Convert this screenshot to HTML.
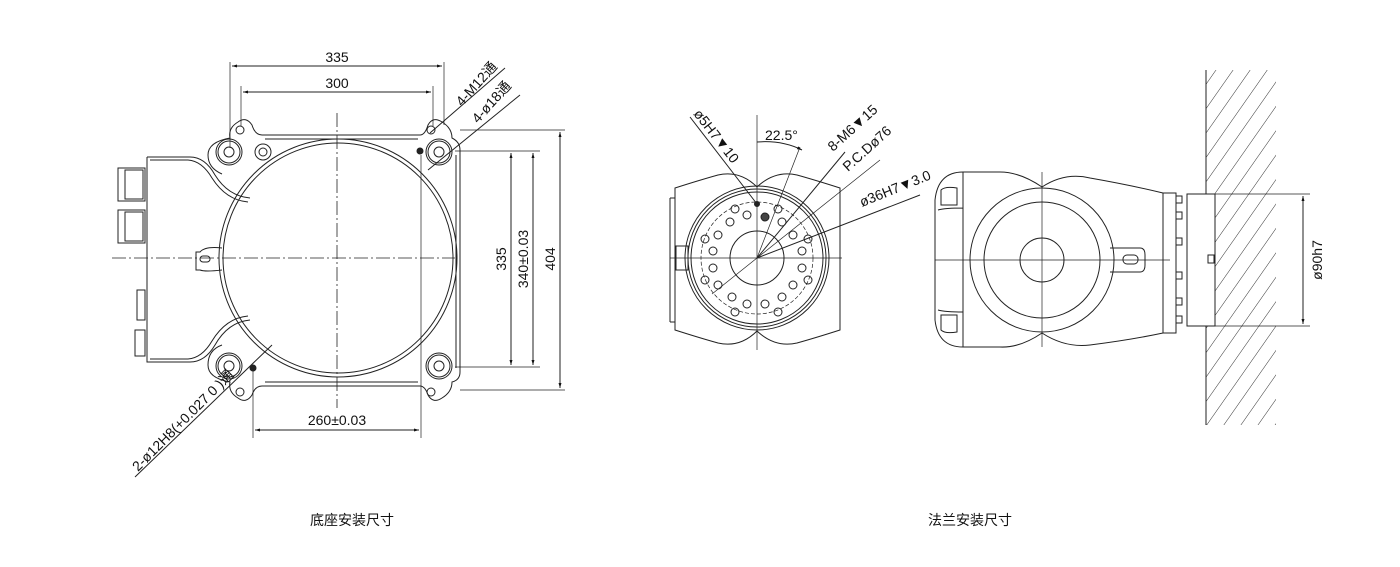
<!DOCTYPE html>
<html><head><meta charset="utf-8"><style>
html,body{margin:0;padding:0;background:#fff;}
svg{display:block;}
text{font-family:"Liberation Sans","Noto Sans CJK SC",sans-serif;fill:#111;}
.d{font-family:"Liberation Sans Narrow","Liberation Sans",sans-serif;font-size:14px;}
</style></head><body>
<svg width="1400" height="567" viewBox="0 0 1400 567" xmlns="http://www.w3.org/2000/svg">
<defs>
<pattern id="h" width="14" height="14" patternUnits="userSpaceOnUse" patternTransform="rotate(35)">
<line x1="0" y1="0" x2="0" y2="14" stroke="#333" stroke-width="1"/>
</pattern>
<marker id="a" viewBox="0 0 10 10" refX="10" refY="5" markerWidth="9" markerHeight="5" orient="auto-start-reverse"><path d="M0,2 L10,5 L0,8 Z" fill="#111"/></marker>
</defs>
<g fill="none" stroke="#222" stroke-width="1">
<!-- LEFT VIEW -->
<path d="M147,157 L190,157 Q205,157 215,175 Q228,196 250,198"/>
<path d="M150,160 L188,160 Q202,161 212,178 Q226,200 248,202"/>
<path d="M147,157 L147,362 L190,362 Q205,362 215,345 Q228,322 250,320"/>
<path d="M150,359 L188,359 Q202,358 212,341 Q226,318 248,316"/>
<path d="M262,135 L420,135 Q425,135 428,125 Q433,116 442,122 Q452,128 452,138 Q460,142 460,150 L460,372 Q460,380 452,382 Q452,392 442,398 Q433,404 428,395 Q425,386 420,386 L262,386 Q255,386 252,395 Q246,404 238,398 Q228,392 230,382 Q208,378 208,365 Q208,350 222,345"/>
<path d="M262,135 Q255,135 252,125 Q246,116 238,122 Q228,128 230,138 Q208,142 208,155 Q208,168 222,174"/>
<path d="M265,139 L418,139 M265,382 L418,382 M456,155 L456,368"/>
<circle cx="338" cy="258" r="119"/>
<circle cx="338" cy="258" r="115"/>
<path d="M222,248 Q205,246 200,252 L196,252 L196,270 L200,270 Q205,272 222,270"/>
<rect x="200" y="256" width="10" height="6" rx="3" fill="#fff"/>
<circle cx="229" cy="152" r="13"/><circle cx="229" cy="152" r="11"/><circle cx="229" cy="152" r="5"/>
<circle cx="439" cy="152" r="13"/><circle cx="439" cy="152" r="11"/><circle cx="439" cy="152" r="5"/>
<circle cx="229" cy="366" r="13"/><circle cx="229" cy="366" r="11"/><circle cx="229" cy="366" r="5"/>
<circle cx="439" cy="366" r="13"/><circle cx="439" cy="366" r="11"/><circle cx="439" cy="366" r="5"/>
<circle cx="263" cy="152" r="8"/><circle cx="263" cy="152" r="4"/>
<circle cx="240" cy="130" r="4"/><circle cx="431" cy="130" r="4"/>
<circle cx="240" cy="392" r="4"/><circle cx="431" cy="392" r="4"/>
<circle cx="420" cy="151" r="3" fill="#222"/><circle cx="253" cy="368" r="3" fill="#222"/>
<rect x="118" y="168" width="27" height="33"/><rect x="125" y="170" width="18" height="29"/>
<rect x="118" y="210" width="27" height="33"/><rect x="125" y="212" width="18" height="29"/>
<rect x="137" y="290" width="8" height="30"/><rect x="135" y="330" width="10" height="26"/>
<path d="M112,258 L455,258 M337,113 L337,408" stroke-dasharray="14,3,2,3" stroke-width="0.8"/>
<path d="M230,62 L230,148 M444,62 L444,125 M241,86 L241,126 M433,86 L433,126" stroke-width="0.7"/>
<line x1="232" y1="66" x2="442" y2="66" marker-start="url(#a)" marker-end="url(#a)"/>
<line x1="243" y1="92" x2="431" y2="92" marker-start="url(#a)" marker-end="url(#a)"/>
<path d="M460,130 L565,130 M460,390 L565,390 M455,151 L540,151 M455,367 L540,367" stroke-width="0.7"/>
<line x1="511" y1="153" x2="511" y2="365" marker-start="url(#a)" marker-end="url(#a)"/>
<line x1="533" y1="153" x2="533" y2="365" marker-start="url(#a)" marker-end="url(#a)"/>
<line x1="560" y1="132" x2="560" y2="388" marker-start="url(#a)" marker-end="url(#a)"/>
<path d="M253,368 L253,438 M421,155 L421,438" stroke-width="0.7"/>
<line x1="255" y1="430" x2="419" y2="430" marker-start="url(#a)" marker-end="url(#a)"/>
<line x1="430" y1="133" x2="505" y2="68"/>
<line x1="428" y1="170" x2="520" y2="95"/>
<line x1="135" y1="477" x2="272" y2="345"/>
<!-- MIDDLE VIEW -->
<path d="M675,188 Q700,180 718,175 Q740,170 757,187 Q775,170 797,175 Q815,180 840,188 L840,330 Q815,338 797,343 Q775,348 757,331 Q740,348 718,343 Q700,338 675,330 Z"/>
<path d="M670,198 L675,198 M670,322 L675,322 M670,198 L670,322"/>
<rect x="676" y="246" width="12" height="24"/>
<circle cx="757" cy="258" r="72"/><circle cx="757" cy="258" r="69"/><circle cx="757" cy="258" r="66"/>
<circle cx="757" cy="258" r="56" stroke-dasharray="4,2" stroke-width="0.7"/>
<circle cx="757" cy="258" r="27"/>
<path d="M757,115 L757,350 M670,258 L842,258" stroke-width="0.7"/>
<line x1="757" y1="258" x2="800" y2="147" stroke-width="0.7"/>
<path d="M757,142 Q782,140 802,150" marker-end="url(#a)"/>
<line x1="690" y1="117" x2="757" y2="204"/>
<line x1="757" y1="258" x2="845" y2="152"/>
<line x1="757" y1="258" x2="880" y2="160" stroke-width="0.7"/>
<line x1="757" y1="258" x2="920" y2="195"/>
<line x1="757" y1="258" x2="712" y2="294" stroke-width="0.7"/>
<circle cx="757" cy="204" r="2.5" fill="#222"/>
<!-- right view -->
<path d="M963,172 L1000,172 Q1020,172 1042,187 Q1065,172 1090,178 Q1130,185 1163,193 L1163,333 Q1130,340 1090,345 Q1065,348 1042,333 Q1020,348 1000,347 L963,347 Q938,347 935,320 L935,200 Q938,172 963,172 Z"/>
<path d="M963,172 L963,347 M938,210 Q945,208 963,208 M938,310 Q945,312 963,312"/>
<path d="M941,205 L941,190 Q945,186 957,188 L957,205 Z M941,315 L941,330 Q945,334 957,332 L957,315 Z"/>
<circle cx="1042" cy="260" r="72"/><circle cx="1042" cy="260" r="58"/><circle cx="1042" cy="260" r="22"/>
<path d="M1110,248 L1140,248 Q1145,248 1145,255 L1145,265 Q1145,272 1140,272 L1110,272"/>
<rect x="1123" y="255" width="15" height="9" rx="4"/>
<path d="M935,260 L1170,260 M1042,172 L1042,347" stroke-width="0.7"/>
<rect x="1163" y="193" width="13" height="140"/>
<rect x="1176" y="196" width="6" height="7"/><rect x="1176" y="212" width="6" height="7"/><rect x="1176" y="238" width="6" height="7"/><rect x="1176" y="272" width="6" height="7"/><rect x="1176" y="298" width="6" height="7"/><rect x="1176" y="316" width="6" height="7"/>
<rect x="1206" y="70" width="70" height="355" fill="url(#h)" stroke="none"/>
<line x1="1206" y1="70" x2="1206" y2="425"/>
<rect x="1187" y="194" width="28" height="132" fill="#fff"/>
<rect x="1208" y="255" width="6" height="8"/>
<path d="M1215,194 L1310,194 M1215,326 L1310,326" stroke-width="0.7"/>
<line x1="1303" y1="196" x2="1303" y2="324" marker-start="url(#a)" marker-end="url(#a)"/>
</g>
<g class="d">
<text x="337" y="62" text-anchor="middle">335</text>
<text x="337" y="88" text-anchor="middle">300</text>
<text x="337" y="425" text-anchor="middle">260±0.03</text>
<text transform="translate(506,259) rotate(-90)" text-anchor="middle">335</text>
<text transform="translate(528,259) rotate(-90)" text-anchor="middle">340±0.03</text>
<text transform="translate(555,259) rotate(-90)" text-anchor="middle">404</text>
<text transform="translate(462,107) rotate(-48)">4-M12通</text>
<text transform="translate(478,124) rotate(-48)">4-ø18通</text>
<text transform="translate(138,472) rotate(-45)">2-ø12H8(+0.027 0 )通</text>
<text transform="translate(693,114) rotate(52)">ø5H7▼10</text>
<text x="765" y="140">22.5°</text>
<text transform="translate(833,152) rotate(-42)">8-M6▼15</text>
<text transform="translate(848,172) rotate(-42)">P.C.Dø76</text>
<text transform="translate(862,207) rotate(-22)">ø36H7▼3.0</text>
<text transform="translate(1322,260) rotate(-90)" text-anchor="middle">ø90h7</text>
</g>
<text x="352" y="525" font-size="14" text-anchor="middle">底座安装尺寸</text>
<text x="970" y="525" font-size="14" text-anchor="middle">法兰安装尺寸</text>
<g fill="none" stroke="#222" stroke-width="1">
<circle cx="735" cy="209" r="4"/><circle cx="778" cy="209" r="4"/><circle cx="705" cy="239" r="4"/><circle cx="808" cy="239" r="4"/>
<circle cx="705" cy="280" r="4"/><circle cx="808" cy="280" r="4"/><circle cx="735" cy="312" r="4"/><circle cx="778" cy="312" r="4"/>
<circle cx="730" cy="222" r="4"/><circle cx="747" cy="215" r="4"/><circle cx="765" cy="217" r="4" fill="#444"/><circle cx="782" cy="222" r="4"/>
<circle cx="718" cy="235" r="4"/><circle cx="793" cy="235" r="4"/><circle cx="713" cy="251" r="4"/><circle cx="802" cy="251" r="4"/>
<circle cx="713" cy="268" r="4"/><circle cx="802" cy="268" r="4"/><circle cx="718" cy="285" r="4"/><circle cx="793" cy="285" r="4"/>
<circle cx="732" cy="297" r="4"/><circle cx="747" cy="304" r="4"/><circle cx="765" cy="304" r="4"/><circle cx="782" cy="297" r="4"/>
</g>
</svg>
</body></html>
